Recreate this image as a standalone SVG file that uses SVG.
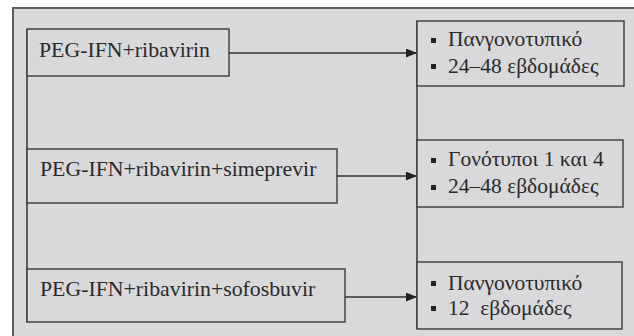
<svg xmlns="http://www.w3.org/2000/svg" width="634" height="336" viewBox="0 0 634 336">
  <style>
    .frame { fill: #d9d9db; stroke: #5e5e5e; stroke-width: 2; }
    .box { fill: #d9d9db; stroke: #3a3a3a; stroke-width: 1.4; }
    .line { fill: none; stroke: #333; stroke-width: 1.5; }
    .rx { font-family: "Liberation Serif", "Times New Roman", serif; font-size: 21.8px; fill: #2a2a2a; }
    .gr { font-family: "Liberation Serif", "Times New Roman", serif; font-size: 21.5px; fill: #2a2a2a; }
    .bul { fill: #222; }
  </style>
  <defs>
    <marker id="arrow" markerUnits="userSpaceOnUse" markerWidth="12" markerHeight="10" refX="11" refY="4.5" orient="auto">
      <path d="M0,0 L11,4.5 L0,9 Z" fill="#222"/>
    </marker>
  </defs>

  <rect width="634" height="336" fill="#ffffff"/>
  <rect class="frame" x="13" y="8" width="640" height="340"/>

  <g id="connectors">
    <line class="line" x1="27" y1="29" x2="27" y2="322"/>
    <line class="line" x1="417" y1="21" x2="417" y2="329"/>
    <line class="line" x1="229" y1="53" x2="417" y2="53" marker-end="url(#arrow)"/>
    <line class="line" x1="337" y1="176" x2="417" y2="176" marker-end="url(#arrow)"/>
    <line class="line" x1="345" y1="297" x2="417" y2="297" marker-end="url(#arrow)"/>
  </g>

  <g id="regimen-1">
    <rect class="box" x="27" y="29" width="202" height="47"/>
    <text class="rx" x="39" y="57">PEG-IFN+ribavirin</text>
  </g>
  <g id="regimen-2">
    <rect class="box" x="27" y="149" width="310" height="54"/>
    <text class="rx" x="40" y="176">PEG-IFN+ribavirin+simeprevir</text>
  </g>
  <g id="regimen-3">
    <rect class="box" x="27" y="269" width="318" height="53"/>
    <text class="rx" x="40" y="296">PEG-IFN+ribavirin+sofosbuvir</text>
  </g>

  <g id="outcome-1">
    <rect class="box" x="417" y="21" width="207" height="65"/>
    <rect class="bul" x="431" y="38" width="5" height="5"/>
    <text class="gr" x="448" y="45.5">Πανγονοτυπικό</text>
    <rect class="bul" x="431" y="64" width="5" height="5"/>
    <text class="gr" x="448" y="72.5">24–48 εβδομάδες</text>
  </g>
  <g id="outcome-2">
    <rect class="box" x="417" y="140" width="206" height="67"/>
    <rect class="bul" x="431" y="158" width="5" height="5"/>
    <text class="gr" x="448" y="166">Γονότυποι 1 και 4</text>
    <rect class="bul" x="431" y="185" width="5" height="5"/>
    <text class="gr" x="448" y="193">24–48 εβδομάδες</text>
  </g>
  <g id="outcome-3">
    <rect class="box" x="417" y="262" width="205" height="67"/>
    <rect class="bul" x="431" y="281" width="5" height="5"/>
    <text class="gr" x="448" y="289.5">Πανγονοτυπικό</text>
    <rect class="bul" x="431" y="306" width="5" height="5"/>
    <text class="gr" x="448" y="314.5" xml:space="preserve">12  εβδομάδες</text>
  </g>
</svg>
